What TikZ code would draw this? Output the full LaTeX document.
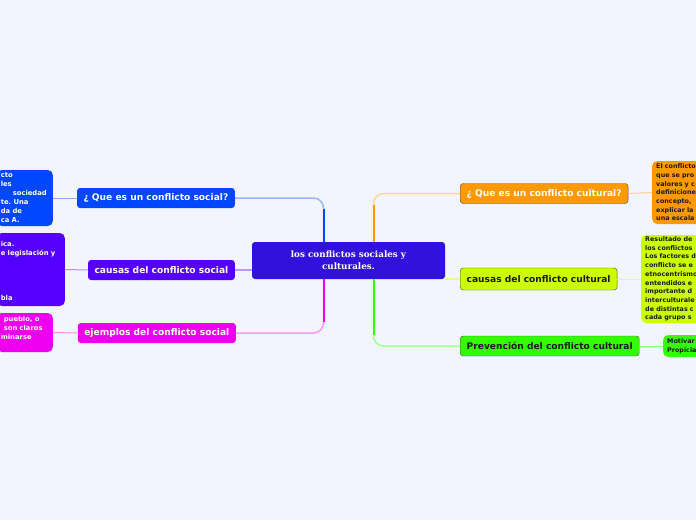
\documentclass[tikz,border=0pt]{standalone}
\usepackage{fontspec}
\setmainfont{DejaVu Sans}
\newfontfamily\serifmain{DejaVu Serif}
\usetikzlibrary{calc}
\frenchspacing
\definecolor{bgcol}{RGB}{243,245,254}
\definecolor{cmain}{RGB}{51,17,221}
\definecolor{cblue}{RGB}{0,71,255}
\definecolor{cviol}{RGB}{85,0,255}
\definecolor{cmag}{RGB}{238,0,238}
\definecolor{corange}{RGB}{255,153,0}
\definecolor{clime}{RGB}{204,255,0}
\definecolor{cgreen}{RGB}{51,255,0}
\definecolor{cedge}{RGB}{77,77,77}
\definecolor{cdark}{RGB}{26,26,26}

\begin{document}
\begin{tikzpicture}[x=1pt,y=-1pt,
  topic/.style={rounded corners=3pt,inner xsep=6.5pt,inner ysep=1pt,minimum height=20pt,
    font=\fontsize{9.1}{10}\selectfont\bfseries},
  leaf/.style={rounded corners=5pt,inner xsep=4pt,inner ysep=1pt,align=left,
    font=\fontsize{6.4}{8.7}\selectfont\bfseries},
  leftleaf/.style={leaf,text=white,font=\fontsize{6.8}{9}\selectfont\bfseries},
  link/.style={line width=1.5pt,rounded corners=10pt},
  stem/.style={line width=2pt},
  twig/.style={line width=1pt}]
\pgfmathsetmacro{\dx}{25}
\pgfmathsetmacro{\bend}{11}
\useasboundingbox (0,0) rectangle (696,520);
\clip (0,0) rectangle (696,520);
\fill[bgcol] (0,0) rectangle (696,520);
\node[fill=cmain,rounded corners=3pt,minimum width=193pt,minimum height=37pt,align=center,
  text=white,font=\serifmain\fontsize{8.8}{11.6}\selectfont\bfseries] (main) at (348.5,260.5)
  {los conflictos sociales y\\culturales.};
\node[topic,fill=cblue,text=white,anchor=east] (qsoc) at (235,198) {¿ Que es un conflicto social?};
\node[topic,fill=cviol,text=white,anchor=east] (csoc) at (235,270) {causas del conflicto social};
\node[topic,fill=cmag,text=white,anchor=east] (esoc) at (236,333) {ejemplos del conflicto social};
\node[topic,fill=corange,text=white,draw=cedge,anchor=west] (qcul) at (460,193.5) {¿ Que es un conflicto cultural?};
\node[topic,fill=clime,text=cdark,draw=cedge,anchor=west,minimum height=22pt] (ccul) at (460,279) {causas del conflicto cultural};
\node[topic,fill=cgreen,text=cdark,draw=cedge,anchor=west] (pcul) at (460,346) {Prevención del conflicto cultural};
\node[leftleaf,fill=cblue,text width=48pt,minimum height=56pt,anchor=east] (lqsoc) at (53,198)
  {cto\\les\\\hspace*{12pt}sociedad\\te. Una\\da de\\ca A.};
\node[leftleaf,fill=cviol,text width=60pt,minimum height=73pt,anchor=east] (lcsoc) at (65,269.5)
  {\mbox{}\\ica.\\e legislación y\\\mbox{}\\\mbox{}\\\mbox{}\\\mbox{}\\bla};
\node[leftleaf,fill=cmag,text width=48pt,minimum height=39pt,anchor=east] (lesoc) at (53,332.5)
  {\hspace*{3pt}pueblo, o\\\hspace*{3pt}son claros\\minarse\\\mbox{}};
\node[leaf,fill=corange,text=cdark,text width=80pt,minimum height=63pt,anchor=west] (lqcul) at (652,192.5)
  {El conflicto\\que se pro\\valores y c\\definicione\\concepto,\\explicar la\\una escala};
\node[leaf,fill=clime,text=cdark,text width=80pt,minimum height=88pt,anchor=west] (lccul) at (641,279)
  {Resultado de\\los conflictos\\Los factores d\\conflicto se e\\etnocentrismo\\entendidos e\\importante d\\interculturale\\de distintas c\\cada grupo s};
\node[leaf,fill=cgreen,text=cdark,text width=60pt,minimum height=22pt,anchor=west] (lpcul) at (663,346)
  {Motivar\\Propicia};
\coordinate (tl) at ($(main.north)+(-\dx,0)$);
\coordinate (tr) at ($(main.north)+(\dx,0)$);
\coordinate (bl) at ($(main.south)+(-\dx,0)$);
\coordinate (br) at ($(main.south)+(\dx,0)$);
\draw[link,cblue!40] (tl) |- (qsoc.east);
\draw[stem,cblue] (tl) -- ($(tl |- qsoc.east)+(0,\bend)$);
\draw[link,cmag!40] (bl) |- (esoc.east);
\draw[stem,cmag] (bl) -- ($(bl |- esoc.east)+(0,-\bend)$);
\draw[link,corange!40] (tr) |- (qcul.west);
\draw[stem,corange] (tr) -- ($(tr |- qcul.west)+(0,\bend)$);
\draw[link,cgreen!45] (br) |- (pcul.west);
\draw[stem,cgreen] (br) -- ($(br |- pcul.west)+(0,-\bend)$);
\draw[link,cviol!40] (main.west |- csoc.east) -- (csoc.east);
\draw[link,clime!50] (main.east |- ccul.west) -- (ccul.west);
\draw[twig,cblue!45] (lqsoc.east) -- (qsoc.west);
\draw[twig,cviol!45] (lcsoc.east) -- (csoc.west);
\draw[twig,cmag!45] (lesoc.east) -- (esoc.west);
\draw[twig,corange!45] (qcul.east) -- (lqcul.west);
\draw[twig,clime!55] (ccul.east) -- (lccul.west);
\draw[twig,cgreen!50] (pcul.east) -- (lpcul.west);
\end{tikzpicture}
\end{document}
